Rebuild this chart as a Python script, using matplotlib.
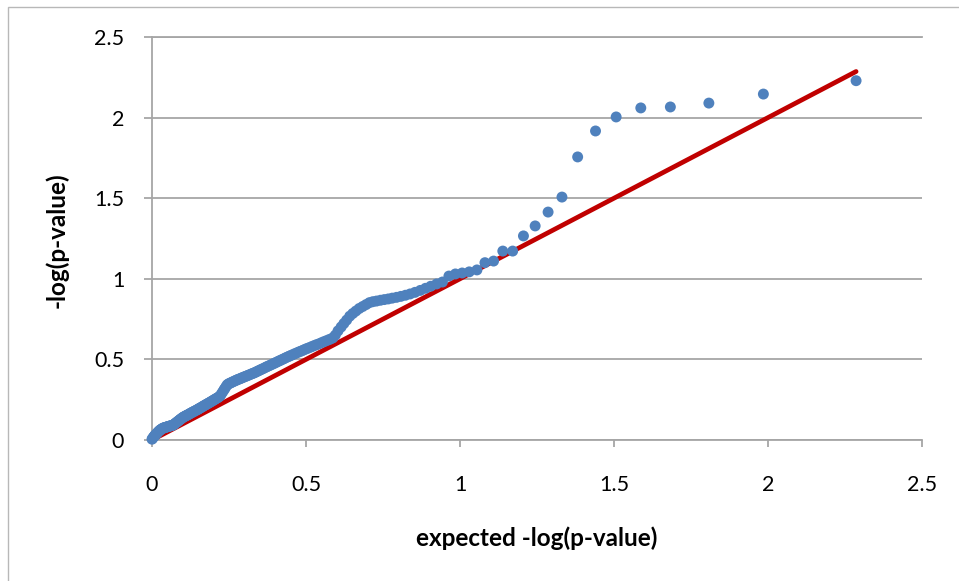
import matplotlib
matplotlib.use('Agg')
import matplotlib.pyplot as plt
from matplotlib.patches import Rectangle

# expected -log(p) (rank order, largest first) and observed -log(p)
expected = [
    2.286, 1.985, 1.808, 1.683, 1.587, 1.507, 1.440, 1.382, 1.331, 1.286,
    1.244, 1.206, 1.171, 1.139, 1.109, 1.081, 1.055, 1.030, 1.007, 0.985,
    0.964, 0.943, 0.924, 0.905, 0.888, 0.871, 0.854, 0.838, 0.823, 0.808,
    0.794, 0.780, 0.767, 0.754, 0.742, 0.729, 0.717, 0.706, 0.695, 0.684,
    0.673, 0.662, 0.652, 0.642, 0.632, 0.623, 0.614, 0.604, 0.595, 0.587,
    0.578, 0.570, 0.561, 0.553, 0.545, 0.537, 0.530, 0.522, 0.515, 0.507,
    0.500, 0.493, 0.486, 0.479, 0.473, 0.466, 0.460, 0.453, 0.447, 0.441,
    0.434, 0.428, 0.422, 0.416, 0.411, 0.405, 0.399, 0.394, 0.388, 0.383,
    0.377, 0.372, 0.367, 0.361, 0.356, 0.351, 0.346, 0.341, 0.336, 0.331,
    0.327, 0.322, 0.317, 0.312, 0.308, 0.303, 0.299, 0.294, 0.290, 0.286,
    0.281, 0.277, 0.273, 0.269, 0.264, 0.260, 0.256, 0.252, 0.248, 0.244,
    0.240, 0.236, 0.233, 0.229, 0.225, 0.221, 0.217, 0.214, 0.210, 0.206,
    0.203, 0.199, 0.196, 0.192, 0.189, 0.185, 0.182, 0.178, 0.175, 0.172,
    0.168, 0.165, 0.162, 0.158, 0.155, 0.152, 0.149, 0.146, 0.143, 0.139,
    0.136, 0.133, 0.130, 0.127, 0.124, 0.121, 0.118, 0.115, 0.112, 0.110,
    0.107, 0.104, 0.101, 0.098, 0.095, 0.092, 0.090, 0.087, 0.084, 0.081,
    0.079, 0.076, 0.073, 0.071, 0.068, 0.066, 0.063, 0.060, 0.058, 0.055,
    0.053, 0.050, 0.048, 0.045, 0.043, 0.040, 0.038, 0.035, 0.033, 0.030,
    0.028, 0.026, 0.023, 0.021, 0.018, 0.016, 0.014, 0.011, 0.009, 0.007,
    0.005, 0.002, 0.000,
]
observed = [
    2.229, 2.146, 2.090, 2.066, 2.060, 2.004, 1.917, 1.756, 1.507, 1.414,
    1.328, 1.266, 1.172, 1.172, 1.110, 1.100, 1.055, 1.043, 1.036, 1.030,
    1.017, 0.980, 0.968, 0.954, 0.941, 0.928, 0.916, 0.906, 0.898, 0.891,
    0.885, 0.880, 0.875, 0.871, 0.867, 0.862, 0.858, 0.852, 0.840, 0.828,
    0.816, 0.800, 0.785, 0.768, 0.744, 0.723, 0.701, 0.677, 0.650, 0.633,
    0.625, 0.619, 0.612, 0.606, 0.599, 0.593, 0.588, 0.582, 0.576, 0.570,
    0.565, 0.559, 0.553, 0.548, 0.543, 0.537, 0.532, 0.526, 0.521, 0.516,
    0.510, 0.504, 0.499, 0.493, 0.489, 0.483, 0.478, 0.473, 0.468, 0.463,
    0.458, 0.454, 0.449, 0.443, 0.439, 0.434, 0.430, 0.425, 0.420, 0.416,
    0.413, 0.409, 0.405, 0.401, 0.398, 0.394, 0.391, 0.387, 0.384, 0.380,
    0.377, 0.374, 0.370, 0.367, 0.362, 0.359, 0.355, 0.351, 0.348, 0.342,
    0.330, 0.318, 0.309, 0.297, 0.285, 0.273, 0.267, 0.263, 0.259, 0.254,
    0.251, 0.246, 0.243, 0.238, 0.235, 0.230, 0.227, 0.223, 0.219, 0.216,
    0.212, 0.208, 0.205, 0.200, 0.197, 0.194, 0.190, 0.187, 0.184, 0.180,
    0.177, 0.174, 0.171, 0.168, 0.165, 0.161, 0.158, 0.155, 0.152, 0.150,
    0.147, 0.144, 0.141, 0.137, 0.132, 0.128, 0.125, 0.120, 0.116, 0.111,
    0.108, 0.104, 0.099, 0.096, 0.092, 0.091, 0.089, 0.088, 0.087, 0.085,
    0.084, 0.082, 0.081, 0.079, 0.078, 0.076, 0.075, 0.073, 0.070, 0.066,
    0.064, 0.061, 0.056, 0.052, 0.046, 0.042, 0.038, 0.032, 0.028, 0.023,
    0.018, 0.010, 0.005,
]
line_x = [0.0, 2.286]
line_y = [0.0, 2.286]
ticks = [0, 0.5, 1, 1.5, 2, 2.5]
tick_labels = ['0', '0.5', '1', '1.5', '2', '2.5']

plt.rcParams['font.family'] = ['Lato', 'DejaVu Sans']
grey = '#a6a6a6'

fig = plt.figure(figsize=(9.59, 5.81), dpi=100)
# chart frame (only top and left edge fall inside the picture)
fig.add_artist(Rectangle((8 / 959, -0.1), 1.2, 1 - 7 / 581 + 0.1,
                         transform=fig.transFigure, fill=False,
                         edgecolor='#b8b8b8', lw=1.0))

ax = fig.add_axes([152 / 959, 1 - 440 / 581, 770 / 959, 403 / 581])
ax.plot(line_x, line_y, color='#c00000', lw=3.4, solid_capstyle='round', zorder=2)
ax.scatter(expected, observed, s=62, color='#4f81bd', edgecolors='none',
           zorder=3, clip_on=False)

ax.set_xlim(0, 2.5)
ax.set_ylim(0, 2.5)
ax.set_xticks(ticks)
ax.set_xticklabels(tick_labels)
ax.set_yticks(ticks)
ax.set_yticklabels(tick_labels)

ax.yaxis.grid(True, color=grey, lw=1.3)
ax.set_axisbelow(True)
ax.spines['right'].set_visible(False)
for s in ['left', 'bottom', 'top']:
    ax.spines[s].set_color(grey)
    ax.spines[s].set_linewidth(1.3)

ax.tick_params(axis='x', direction='out', length=5, width=1.3, color=grey,
               pad=20, labelsize=15.5, labelcolor='black')
ax.tick_params(axis='y', direction='out', length=6, width=1.3, color=grey,
               pad=14, labelsize=15.5, labelcolor='black')

fig.text(537 / 959, 1 - 538 / 581, 'expected -log(p-value)', ha='center',
         va='center', fontsize=17.5, fontweight='bold')
fig.text(57 / 959, 1 - 240 / 581, '-log(p-value)', ha='center', va='center',
         rotation=90, fontsize=17.5, fontweight='bold')

fig.savefig('out.png', dpi=100)
